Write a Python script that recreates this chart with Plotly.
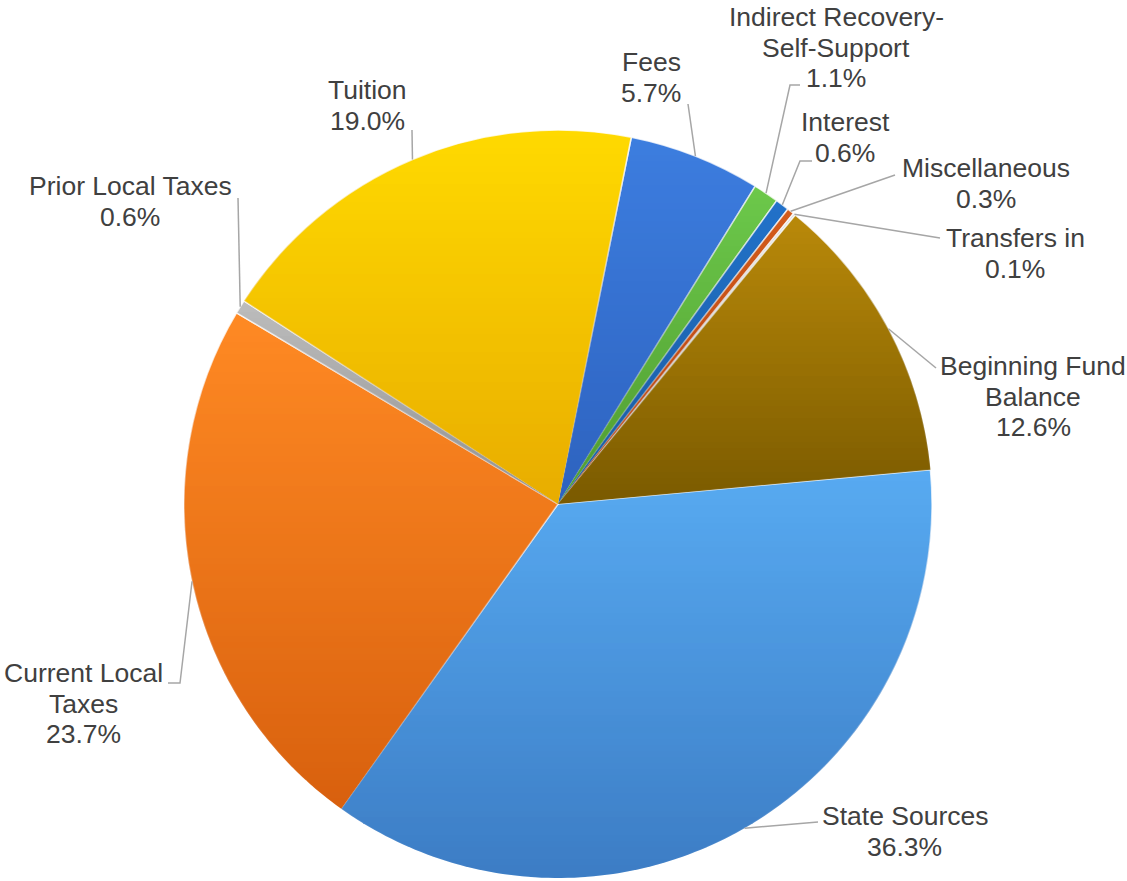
import math
import plotly.graph_objects as go

W, H = 1127, 881

# Revenue sources in clockwise order, starting from the Fees slice
sources = [
    "Fees",
    "Indirect Recovery-Self-Support",
    "Interest",
    "Miscellaneous",
    "Transfers in",
    "Beginning Fund Balance",
    "State Sources",
    "Current Local Taxes",
    "Prior Local Taxes",
    "Tuition",
]
shares = [5.7, 1.1, 0.6, 0.3, 0.1, 12.6, 36.3, 23.7, 0.6, 19.0]
label_lines = [
    ["Fees"],
    ["Indirect Recovery-", "Self-Support"],
    ["Interest"],
    ["Miscellaneous"],
    ["Transfers in"],
    ["Beginning Fund", "Balance"],
    ["State Sources"],
    ["Current Local", "Taxes"],
    ["Prior Local Taxes"],
    ["Tuition"],
]
# Each slice fades from a light top colour to a deeper bottom colour
top_colors = [
    "#3D7EE0", "#6DC94B", "#2272CA", "#D45C1C", "#DADADA",
    "#BA8A0A", "#58ABF2", "#FF8A24", "#BDBDBD", "#FFDA00",
]
bottom_colors = [
    (46, 98, 190), (78, 154, 48), (26, 90, 158), (176, 64, 16), (176, 176, 176),
    (122, 90, 0), (60, 124, 196), (216, 96, 14), (144, 144, 144), (232, 172, 0),
]

# Pie geometry (pixels) and start angle
CX, CY, R = 558, 504, 374
ROTATION = 11.3

# Label placement: centre x and y of the first text line (pixels)
label_xy = [
    (651, 62), (836, 17), (845, 122), (986, 168), (1015, 238),
    (1033, 366), (905, 816), (83, 673), (130, 186), (368, 90),
]
LINE_GAP = 30.7

# Label-side points of each leader line (pixels)
leader_from = [
    [(688, 104)],
    [(800, 85), (790, 85)],
    [(812, 161), (800, 161)],
    [(895, 175)],
    [(940, 238)],
    [(936, 368)],
    [(818, 822)],
    [(168, 683), (180, 683)],
    [(238, 198)],
    [(412, 130)],
]

FONT = "Liberation Sans, Arial, sans-serif"
TEXT_COLOR = "#404040"
LEADER_COLOR = "#A6A6A6"
SHADE_BAND = 6


def px(x):
    return x / W


def py(y):
    return 1 - y / H


def to_path(points, close=False):
    s = "M " + " L ".join(f"{px(a):.6f},{py(b):.6f}" for a, b in points)
    return s + (" Z" if close else "")


def clip_y(poly, lim, keep_ge):
    """Clip a convex polygon to the half-plane y >= lim (or y <= lim)."""
    def inside(p):
        return p[1] >= lim if keep_ge else p[1] <= lim

    def cross(a, b):
        t = (lim - a[1]) / (b[1] - a[1])
        return (a[0] + t * (b[0] - a[0]), lim)

    out = []
    for i in range(len(poly)):
        cur, prev = poly[i], poly[i - 1]
        if inside(cur):
            if not inside(prev):
                out.append(cross(prev, cur))
            out.append(cur)
        elif inside(prev):
            out.append(cross(prev, cur))
    return out


def wedge(a0, a1):
    """Polygon of a pie sector between two clockwise-from-top angles (degrees)."""
    n = max(2, int(math.ceil(a1 - a0)))
    pts = [(CX, CY)]
    for k in range(n + 1):
        a = math.radians(a0 + (a1 - a0) * k / n)
        pts.append((CX + R * math.sin(a), CY - R * math.cos(a)))
    return pts


fig = go.Figure(
    go.Pie(
        labels=sources,
        values=shares,
        sort=False,
        direction="clockwise",
        rotation=ROTATION,
        marker=dict(colors=top_colors,
                    line=dict(color="rgba(255,255,255,0.8)", width=1.5)),
        textinfo="none",
        hoverinfo="label+percent",
        showlegend=False,
        domain=dict(x=[px(CX - R), px(CX + R)], y=[py(CY + R), py(CY - R)]),
    )
)

total = sum(shares)
shapes = []
annotations = []

# Per-slice vertical gradient, drawn as horizontal bands clipped to each sector
cum = 0.0
for val, (r, g, b) in zip(shares, bottom_colors):
    a0 = ROTATION + 360 * cum / total
    a1 = ROTATION + 360 * (cum + val) / total
    cum += val
    poly = wedge(a0, a1)
    ys = [p[1] for p in poly]
    y_top, y_bot = min(ys), max(ys)
    y = math.floor(y_top)
    while y < y_bot:
        band = clip_y(clip_y(poly, y, True), y + SHADE_BAND, False)
        if len(band) >= 3:
            mid = min(max((y + SHADE_BAND / 2 - y_top) / (y_bot - y_top), 0), 1)
            shapes.append(dict(type="path", path=to_path(band, close=True),
                               xref="paper", yref="paper", layer="above",
                               fillcolor=f"rgba({r},{g},{b},{mid:.3f})",
                               line=dict(width=0)))
        y += SHADE_BAND

# Labels and leader lines
cum = 0.0
for val, lines, (lx, ly), pts in zip(shares, label_lines, label_xy, leader_from):
    mid = math.radians(ROTATION + 360 * (cum + val / 2) / total)
    cum += val
    ex = CX + R * math.sin(mid)
    ey = CY - R * math.cos(mid)

    text_rows = lines + [f"{val:.1f}%"]
    for i, row in enumerate(text_rows):
        annotations.append(dict(
            x=px(lx), y=py(ly + i * LINE_GAP), xref="paper", yref="paper",
            text=row, showarrow=False, xanchor="center", yanchor="middle",
            font=dict(family=FONT, size=26.5, color=TEXT_COLOR),
        ))

    shapes.append(dict(type="path", path=to_path(pts + [(ex, ey)]),
                       xref="paper", yref="paper", layer="above",
                       line=dict(color=LEADER_COLOR, width=1.5)))

fig.update_layout(
    width=W,
    height=H,
    margin=dict(l=0, r=0, t=0, b=0),
    paper_bgcolor="white",
    plot_bgcolor="white",
    annotations=annotations,
    shapes=shapes,
)

fig.write_html("out.html")
